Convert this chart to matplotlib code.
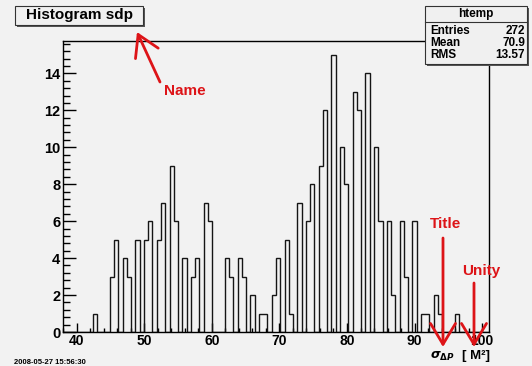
import matplotlib
matplotlib.use("Agg")
import matplotlib.pyplot as plt
from matplotlib.patches import Rectangle
from matplotlib.ticker import MultipleLocator, FixedLocator

# ---------------- data ----------------
waiting = [43, 45, 46, 47, 48, 49, 50, 51, 52, 53, 54, 55, 56, 57, 58, 59, 60,
           62, 63, 64, 65, 66, 67, 68, 69, 70, 71, 72, 73, 74, 75, 76, 77, 78,
           79, 80, 81, 82, 83, 84, 85, 86, 87, 88, 89, 90, 91, 92, 93, 94, 96]
counts = [1, 3, 5, 4, 3, 5, 5, 6, 5, 7, 9, 6, 4, 3, 4, 7, 6,
          4, 3, 4, 3, 2, 1, 1, 2, 4, 5, 1, 7, 6, 8, 9, 12, 15,
          10, 8, 13, 12, 14, 10, 6, 6, 2, 6, 3, 6, 1, 1, 2, 1, 1]
x_range = (38, 101)
n_bins = 100
y_top = 15.75
x_major = [40, 50, 60, 70, 80, 90, 100]
y_major = [0, 2, 4, 6, 8, 10, 12, 14]

title_text = "Histogram sdp"
stats_name = "htemp"
stats_labels = ["Entries", "Mean", "RMS"]
stats_values = ["272", "70.9", "13.57"]
date_text = "2008-05-27 15:56:30"
note_labels = ["Name", "Title", "Unity"]

# ---------------- figure ----------------
W, H = 532, 366
plt.rcParams["font.family"] = ["Liberation Sans", "DejaVu Sans"]
plt.rcParams["font.weight"] = "bold"

BG = "#f2f2f2"
RED = "#dd1418"
fig = plt.figure(figsize=(W / 100, H / 100), dpi=100, facecolor=BG)


def fx(x):
    return x / W


def fy(y):
    return 1 - y / H


ax = fig.add_axes([fx(63), fy(332), 426 / W, 291 / H])
ax.set_facecolor(BG)
ax.hist(waiting, bins=n_bins, range=x_range, weights=counts,
        histtype="step", color="#151515", lw=1.0)
ax.set_xlim(*x_range)
ax.set_ylim(0, y_top)

for s in ax.spines.values():
    s.set_linewidth(1.0)
    s.set_color("black")

ax.xaxis.set_major_locator(FixedLocator(x_major))
ax.xaxis.set_minor_locator(MultipleLocator(2))
ax.yaxis.set_major_locator(FixedLocator(y_major))
ax.yaxis.set_minor_locator(MultipleLocator(0.4))
ax.tick_params(axis="x", which="major", direction="in", length=6.3, width=1,
               pad=1.5, labelsize=10)
ax.tick_params(axis="x", which="minor", direction="in", length=3.1, width=1)
ax.tick_params(axis="y", which="major", direction="in", length=9.4, width=1,
               pad=2, labelsize=10.5)
ax.tick_params(axis="y", which="minor", direction="in", length=4.7, width=1)
for lab in ax.get_xticklabels() + ax.get_yticklabels():
    lab.set_fontweight("bold")

# ---------------- boxes ----------------
def box(x0, y0, x1, y1, z=5):
    sh = Rectangle((fx(x0) + 2 / W, fy(y1) - 2 / H), (x1 - x0) / W, (y1 - y0) / H,
                   transform=fig.transFigure, facecolor="#555555",
                   edgecolor="none", zorder=z)
    r = Rectangle((fx(x0), fy(y1)), (x1 - x0) / W, (y1 - y0) / H,
                  transform=fig.transFigure, facecolor="#f0f0f0",
                  edgecolor="#333333", lw=0.8, zorder=z + 0.1)
    fig.add_artist(sh)
    fig.add_artist(r)


box(15, 6, 143, 25)
fig.text(fx(80), fy(15.5), title_text, ha="center", va="center",
         fontsize=11, fontweight="bold", zorder=7)

box(425, 6, 527, 64)
fig.add_artist(plt.Line2D([fx(425), fx(527)], [fy(21.5), fy(21.5)],
                          transform=fig.transFigure, color="#333333", lw=0.8,
                          zorder=7))
fig.text(fx(476), fy(13.5), stats_name, ha="center", va="center",
         fontsize=8.5, fontweight="bold", zorder=7)
for i, (lab, val) in enumerate(zip(stats_labels, stats_values)):
    yy = 31 + 12 * i
    fig.text(fx(430), fy(yy), lab, ha="left", va="center", fontsize=8.5,
             fontweight="bold", zorder=7)
    fig.text(fx(525), fy(yy), val, ha="right", va="center", fontsize=8.5,
             fontweight="bold", zorder=7)

# ---------------- axis title ----------------
fig.text(fx(455), fy(356), r"$\sigma_{\Delta P}$", ha="right", va="center",
         fontsize=9)
fig.text(fx(490), fy(355.5), "[ M\u00b2]", ha="right", va="center",
         fontsize=9.5, fontweight="bold")

# ---------------- date ----------------
fig.text(fx(14), fy(362), date_text, ha="left", va="center", fontsize=5.5,
         fontweight="bold")

# ---------------- red annotations ----------------
arrow_kw = dict(arrowstyle="->,head_length=0.75,head_width=0.45",
                color=RED, lw=2.0, mutation_scale=20, shrinkA=0, shrinkB=0)


def arrow(x0, y0, x1, y1):
    fig.add_artist(matplotlib.patches.FancyArrowPatch(
        (fx(x0), fy(y0)), (fx(x1), fy(y1)), transform=fig.transFigure,
        zorder=10, **arrow_kw))


fig.text(fx(185), fy(91), note_labels[0], ha="center", va="center",
         fontsize=11, fontweight="bold", color=RED, zorder=10)
arrow(160, 82, 137, 32)
fig.text(fx(446), fy(224), note_labels[1], ha="center", va="center",
         fontsize=11, fontweight="bold", color=RED, zorder=10)
arrow(443, 238, 443, 347)
fig.text(fx(481), fy(271), note_labels[2], ha="center", va="center",
         fontsize=11, fontweight="bold", color=RED, zorder=10)
arrow(474, 283, 474, 347)

fig.savefig("out.png", dpi=100, facecolor=BG)
